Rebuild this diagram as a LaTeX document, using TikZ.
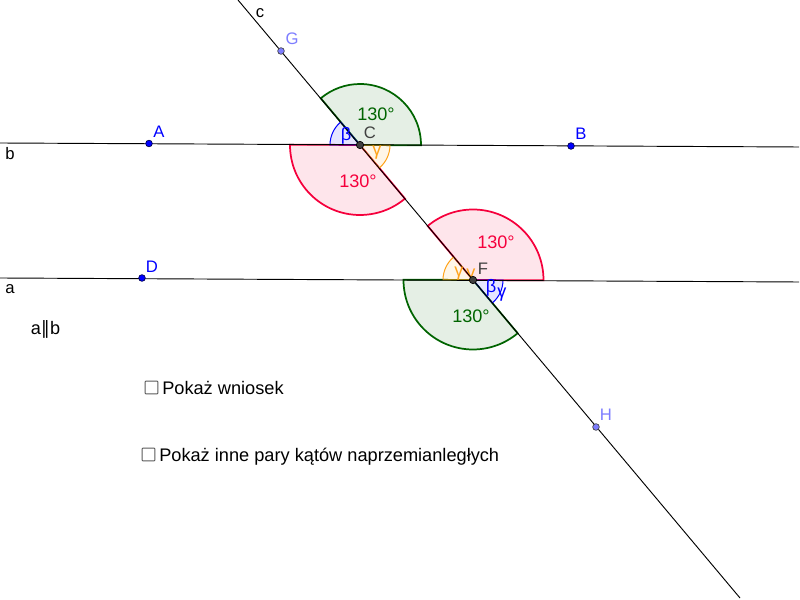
\documentclass[tikz,border=0pt]{standalone}
\usepackage{fontspec}
\setmainfont{Liberation Sans}
\newfontfamily\symfont{DejaVu Sans}
\definecolor{gr}{HTML}{006400}
\definecolor{rd}{HTML}{F5003C}
\definecolor{bl}{HTML}{0000FF}
\definecolor{og}{HTML}{FFA31A}
\definecolor{pale}{HTML}{7D7DFF}
\definecolor{dk}{HTML}{404040}
\tikzset{
  geoline/.style={draw=black,line width=0.7pt},
  bigsec/.style={line width=1.3pt,fill opacity=.1,draw opacity=1},
  smallsec/.style={line width=0.75pt,fill opacity=.1,draw opacity=1},
  lab/.style={inner sep=0pt,font=\fontsize{12.5}{14}\selectfont},
  ang/.style={inner sep=0pt,font=\fontsize{13.6}{16}\selectfont},
  txt/.style={inner sep=0pt,anchor=west,font=\fontsize{13.65}{16}\selectfont},
  ptbase/.style={circle,inner sep=0pt,minimum size=5pt,line width=0.5pt},
  ptblue/.style={ptbase,draw=black!70!blue,fill=blue},
  ptpale/.style={ptbase,draw=dk,fill=pale},
  ptdark/.style={ptbase,draw=black,fill=dk,minimum size=5.5pt},
  chk/.style={draw=black!65,line width=0.75pt,rounded corners=0.6pt,inner sep=0pt,minimum size=9.6pt}
}
\newcommand{\sect}[6]{% centre, start, end, radius, colour, style
  \filldraw[#6,draw=#5,fill=#5] (#1) -- ++(#2:#4) arc (#2:#3:#4) -- cycle;}
\begin{document}
\begin{tikzpicture}[x=0.75pt,y=0.75pt]
\useasboundingbox (0,0) rectangle (800,600);
\coordinate (C) at (360,455);
\coordinate (F) at (473,320);
\coordinate (bL) at (0,457);
\coordinate (bR) at (799,453);
\coordinate (aL) at (0,322);
\coordinate (aR) at (799,318);
\coordinate (cT) at (238,600);
\coordinate (cB) at (740,2);
% sectors
\sect{C}{-0.3}{130}{61}{gr}{bigsec}
\sect{C}{179.7}{310}{70}{rd}{bigsec}
\sect{F}{-0.3}{130}{70.5}{rd}{bigsec}
\sect{F}{179.7}{310}{69.5}{gr}{bigsec}
\sect{C}{130}{179.7}{30}{bl}{smallsec}
\sect{C}{310}{359.7}{30}{og}{smallsec}
\sect{F}{130}{179.7}{30}{og}{smallsec}
\sect{F}{310}{359.7}{30}{bl}{smallsec}
% labels under the lines
\node[ang,text=og] (y2b) at (471,324.5) {γ};
\node[ang,text=bl] (y3) at (502,305) {γ};
% lines
\draw[geoline] (bL) -- (bR);
\draw[geoline] (aL) -- (aR);
\draw[geoline] (cT) -- (cB);
% points
\node[ptblue] (A) at (149,456.5) {};
\node[ptblue] (B) at (571,454) {};
\node[ptblue] (D) at (142,322) {};
\node[ptpale] (G) at (281,549) {};
\node[ptpale] (H) at (596,173) {};
\node[ptdark] (Cp) at (C) {};
\node[ptdark] (Fp) at (F) {};
% labels
\node[lab,text=bl] (lA) at (159,468) {A};
\node[lab,text=bl] (lB) at (581,466) {B};
\node[lab,text=bl] (lD) at (152,333) {D};
\node[lab,text=pale] (lG) at (292,561) {G};
\node[lab,text=pale] (lH) at (606,185) {H};
\node[lab,text=dk] (lC) at (370,467) {C};
\node[lab,text=dk] (lF) at (483,331) {F};
\node[lab] (lc) at (260,587) {c};
\node[lab] (lb) at (10,446) {b};
\node[lab] (la) at (10,311) {a};
\node[ang] (par) at (45.5,271) {a{\symfont∥}b};
\node[ang,text=gr] (g1) at (376,486) {130°};
\node[ang,text=rd] (r1) at (358,419) {130°};
\node[ang,text=rd] (r2) at (496,358) {130°};
\node[ang,text=gr] (g2) at (471,284) {130°};
\node[ang,text=bl] (b1) at (346,464) {β};
\node[ang,text=og] (y1) at (377,447) {γ};
\node[ang,text=og] (y2) at (459,326) {γ};
\node[ang,text=bl] (b2) at (491,312) {β};
% checks
\node[chk] (k1) at (151.5,212.5) {};
\node[chk] (k2) at (148.5,145.5) {};
\node[txt] (t1) at (162,212) {Pokaż wniosek};
\node[txt] (t2) at (159,143.5) {Pokaż inne pary kątów naprzemianległych};
\end{tikzpicture}
\end{document}
